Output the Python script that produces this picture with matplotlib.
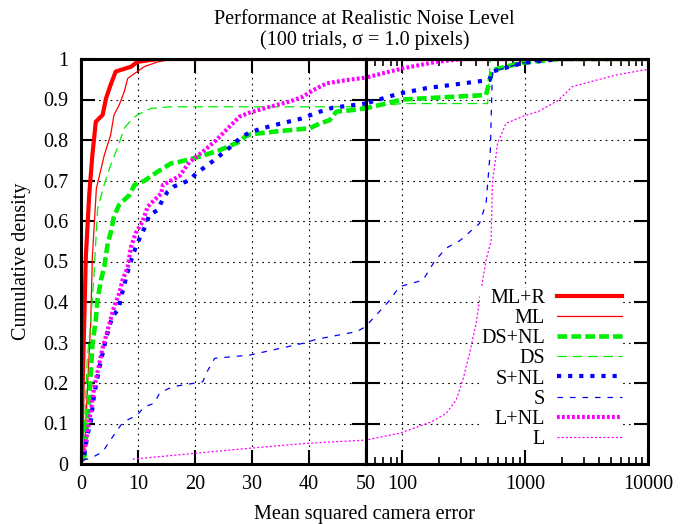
import matplotlib
matplotlib.use("Agg")
import matplotlib.pyplot as plt
from matplotlib.ticker import FixedLocator, NullFormatter

plt.rcParams['font.family'] = ['Liberation Serif', 'DejaVu Serif']
plt.rcParams['font.size'] = 14.5
plt.rcParams['lines.scale_dashes'] = False

# curves: x = mean squared camera error, y = cumulative density
mlr_x = [0.1, 0.26, 0.56, 0.85, 1.44, 2.0, 2.6, 3.8, 4.4, 5.2, 6.1, 8.8, 9.9, 13.5, 10000]
mlr_y = [0.01, 0.178, 0.347, 0.512, 0.664, 0.763, 0.845, 0.862, 0.903, 0.936, 0.969, 0.981, 0.993, 1.0, 1.0]

ml_x = [0.56, 1.1, 1.7, 2.0, 2.7, 4.1, 5.2, 5.8, 6.7, 7.6, 8.2, 9.9, 11.1, 13.5, 16.4, 10000]
ml_y = [0.01, 0.178, 0.347, 0.512, 0.68, 0.763, 0.812, 0.862, 0.886, 0.919, 0.952, 0.969, 0.981, 0.993, 1.0, 1.0]

dsnl_x = [0.5, 0.67, 1.0, 1.44, 1.7, 2.0, 2.6, 2.9, 3.5, 4.1, 4.7, 5.2, 5.8, 6.7, 8.5, 9.4, 11.1,
          13.5, 15.8, 17.3, 20.9, 24.4, 27.9, 28.8, 29.7, 34.9, 40.2, 42, 43.7, 44.9, 47.8, 50,
          100, 479, 541, 950, 1885, 10000]
dsnl_y = [0.01, 0.03, 0.096, 0.154, 0.22, 0.294, 0.356, 0.405, 0.454, 0.487, 0.545, 0.57, 0.611,
          0.64, 0.664, 0.689, 0.699, 0.722, 0.742, 0.746, 0.759, 0.775, 0.796, 0.808, 0.814, 0.822,
          0.829, 0.841, 0.849, 0.87, 0.874, 0.878, 0.9, 0.911, 0.973, 0.991, 1.0, 1.0]

ds_x = [0.4, 1.1, 1.7, 2.3, 2.9, 3.8, 5.2, 6.4, 7.6, 8.8, 9.9, 12.3, 15.8, 50, 100, 494, 520, 10000]
ds_y = [0.01, 0.26, 0.347, 0.471, 0.627, 0.677, 0.738, 0.78, 0.829, 0.849, 0.862, 0.878, 0.882,
        0.882, 0.89, 0.89, 1.0, 1.0]

snl_x = [0.56, 1.14, 1.7, 2.3, 3.2, 4.4, 5.5, 6.7, 7.0, 7.6, 7.9, 8.5, 9.1, 9.9, 11.4, 12.0, 13.5,
         14.3, 15.2, 16.3, 19.1, 20.3, 23.2, 26.1, 27.9, 29.4, 31.4, 34.9, 38.5, 42, 44.3, 47.8, 50,
         95, 157, 398, 510, 540, 950, 1885, 10000]
snl_y = [0.022, 0.072, 0.104, 0.17, 0.236, 0.31, 0.364, 0.384, 0.413, 0.438, 0.462, 0.487, 0.516,
         0.545, 0.59, 0.615, 0.627, 0.652, 0.672, 0.685, 0.701, 0.718, 0.748, 0.781, 0.804, 0.817,
         0.827, 0.84, 0.852, 0.87, 0.88, 0.886, 0.89, 0.915, 0.928, 0.944, 0.948, 0.969, 0.99, 1.0, 1.0]

s_x = [0.3, 1.7, 3.8, 5.8, 7.0, 8.2, 9.9, 11.1, 12.9, 13.8, 15.5, 17, 19.7, 21.4, 22, 23.5, 29.7,
       39, 41.4, 48.5, 50, 76.5, 95, 147, 182, 227, 292, 424, 480, 520, 540, 950, 1885, 10000]
s_y = [0.01, 0.014, 0.03, 0.072, 0.096, 0.109, 0.121, 0.141, 0.15, 0.175, 0.187, 0.193, 0.199,
       0.203, 0.224, 0.261, 0.269, 0.298, 0.308, 0.327, 0.339, 0.40, 0.438, 0.454, 0.5, 0.533,
       0.551, 0.594, 0.644, 0.775, 0.969, 0.99, 1.0, 1.0]

lnl_x = [0.56, 1.14, 1.7, 2.3, 2.9, 3.8, 5.0, 5.8, 6.7, 7.3, 8.2, 8.8, 9.6, 10.8, 11.7, 12.9, 14.1,
         14.4, 17.3, 19.1, 21.4, 23.8, 26.1, 27.9, 29.7, 33.2, 36.7, 39, 40.8, 43.2, 46.7, 50,
         101, 189, 310, 10000]
lnl_y = [0.03, 0.08, 0.129, 0.187, 0.228, 0.286, 0.347, 0.388, 0.421, 0.454, 0.487, 0.537, 0.57,
         0.598, 0.635, 0.652, 0.668, 0.689, 0.711, 0.746, 0.771, 0.8, 0.833, 0.858, 0.868, 0.882,
         0.895, 0.907, 0.923, 0.94, 0.948, 0.954, 0.977, 0.993, 1.0, 1.0]

l_x = [9.1, 19.7, 29.7, 39.6, 50, 95, 172, 227, 274, 310, 352, 398, 437, 480, 527, 540, 595, 697,
       950, 1290, 1880, 2420, 5400, 8900, 10000]
l_y = [0.012, 0.026, 0.039, 0.051, 0.059, 0.076, 0.104, 0.125, 0.158, 0.207, 0.273, 0.347, 0.43,
       0.504, 0.55, 0.693, 0.792, 0.841, 0.858, 0.871, 0.899, 0.932, 0.96, 0.972, 0.974]

labels = ['ML+R', 'ML', 'DS+NL', 'DS', 'S+NL', 'S', 'L+NL', 'L']
curves = [(mlr_x, mlr_y), (ml_x, ml_y), (dsnl_x, dsnl_y), (ds_x, ds_y),
          (snl_x, snl_y), (s_x, s_y), (lnl_x, lnl_y), (l_x, l_y)]
styles = [
    dict(color='#ff0000', lw=3.0, ls='-'),
    dict(color='#ff0000', lw=0.9, ls='-'),
    dict(color='#00ee00', lw=3.3, ls=(0, (7, 3))),
    dict(color='#00ee00', lw=0.9, ls=(0, (7, 4))),
    dict(color='#0000ff', lw=3.0, ls=(0, (3, 5))),
    dict(color='#0000ff', lw=0.9, ls=(0, (4, 5))),
    dict(color='#ff00ff', lw=3.0, ls=(0, (2, 1.6))),
    dict(color='#ff00ff', lw=0.9, ls=(0, (1.5, 1.5))),
]

W, H = 697, 524
fig = plt.figure(figsize=(W / 100, H / 100), dpi=100)
x0, xb, x1 = 81, 365.5, 648
yb, yt = 464, 59
ax1 = fig.add_axes([x0 / W, 1 - yb / H, (xb - x0) / W, (yb - yt) / H])
ax2 = fig.add_axes([xb / W, 1 - yb / H, (x1 - xb) / W, (yb - yt) / H])

handles = []
for (cx, cy), st, lab in zip(curves, styles, labels):
    h, = ax1.plot(cx, cy, label=lab, **st)
    ax2.plot(cx, cy, **st)
    handles.append(h)

grid_kw = dict(color='black', lw=0.8, ls=(0, (1.2, 3.0)))
for ax in (ax1, ax2):
    ax.set_ylim(0, 1)
    ax.set_yticks([i / 10 for i in range(11)])
    ax.grid(True, which='major', **grid_kw)
    ax.set_axisbelow(True)
    for sp in ax.spines.values():
        sp.set_linewidth(2.2)
    ax.tick_params(which='major', direction='in', length=10, width=1.5,
                   top=True, right=True, left=True, bottom=True)
    ax.tick_params(which='minor', direction='in', length=5, width=1.2,
                   top=True, bottom=True, left=False, right=False)

ax1.set_xlim(0, 50)
ax1.set_xticks([0, 10, 20, 30, 40, 50])
ax1.set_yticklabels(['0', '0.1', '0.2', '0.3', '0.4', '0.5', '0.6', '0.7', '0.8', '0.9', '1'])
ax1.tick_params(axis='y', pad=9)
ax1.tick_params(axis='x', pad=8)

ax2.set_xscale('log')
ax2.set_xlim(50, 10000)
ax2.xaxis.set_major_locator(FixedLocator([100, 1000, 10000]))
ax2.set_xticklabels(['100', '1000', '10000'])
minors = [60, 70, 80, 90] + [k * 100 for k in range(2, 10)] + [k * 1000 for k in range(2, 10)]
ax2.xaxis.set_minor_locator(FixedLocator(minors))
ax2.xaxis.set_minor_formatter(NullFormatter())
ax2.tick_params(axis='y', labelleft=False)
ax2.tick_params(axis='x', pad=8)

leg = ax2.legend(handles=handles, loc='lower right', bbox_to_anchor=(0.91, 0.035),
                 borderaxespad=0, markerfirst=False, handlelength=3.2, handletextpad=0.6,
                 labelspacing=0.05, borderpad=0.05, fancybox=False, framealpha=1.0,
                 fontsize=14.5)
leg.get_frame().set_edgecolor('none')
for t in leg.get_texts():
    t.set_ha('right')
leg._legend_box.align = 'right'

fig.text((x0 + x1) / 2 / W, 1 - 30 / H,
         'Performance at Realistic Noise Level\n(100 trials, σ = 1.0 pixels)',
         ha='center', va='center', linespacing=1.1)
fig.text((x0 + x1) / 2 / W, 1 - 514 / H, 'Mean squared camera error', ha='center', va='center')
fig.text(22 / W, 1 - (yt + yb) / 2 / H, 'Cumulative density', rotation=90,
         ha='center', va='center')

fig.savefig('out.png', dpi=100)
